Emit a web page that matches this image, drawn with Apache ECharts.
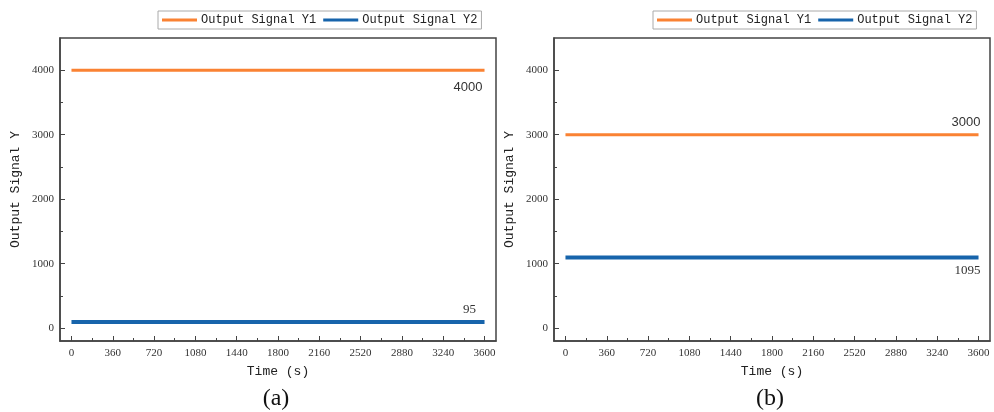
<!DOCTYPE html>
<html>
<head>
<meta charset="utf-8">
<script src="https://cdn.jsdelivr.net/npm/echarts@6/dist/echarts.min.js"></script>
<style>
  html, body { margin: 0; padding: 0; background: #fff; }
  #main { width: 994px; height: 412px; }
</style>
</head>
<body>
<div id="main"></div>
<script>
// data
var time = [0, 360, 720, 1080, 1440, 1800, 2160, 2520, 2880, 3240, 3600];
var y1a = [4000, 4000, 4000, 4000, 4000, 4000, 4000, 4000, 4000, 4000, 4000];
var y2a = [95, 95, 95, 95, 95, 95, 95, 95, 95, 95, 95];
var y1b = [3000, 3000, 3000, 3000, 3000, 3000, 3000, 3000, 3000, 3000, 3000];
var y2b = [1095, 1095, 1095, 1095, 1095, 1095, 1095, 1095, 1095, 1095, 1095];
var xTicks = [0, 360, 720, 1080, 1440, 1800, 2160, 2520, 2880, 3240, 3600];
var xMinor = [180, 540, 900, 1260, 1620, 1980, 2340, 2700, 3060, 3420];
var yTicks = [0, 1000, 2000, 3000, 4000];
var yMinor = [500, 1500, 2500, 3500];
var names = ['Output Signal Y1', 'Output Signal Y2'];
var panels = ['(a)', '(b)'];

var orange = '#fa8233';
var blue = '#1764ab';
var mono = 'Liberation Mono';
var serif = 'Liberation Serif';

function pairs(xs, ys) {
  return xs.map(function (x, i) { return [x, ys[i]]; });
}
function plain(v) { return String(v); }

var chart = echarts.init(document.getElementById('main'));

var grids = [
  { left: 60, top: 38, width: 436, height: 303 },
  { left: 554, top: 38, width: 436, height: 303 }
];

var xAxes = [], yAxes = [];
[0, 1].forEach(function (g) {
  // main x axis
  xAxes.push({
    type: 'value', gridIndex: g, min: -100, max: 3700, position: 'bottom',
    name: 'Time (s)', nameLocation: 'middle', nameGap: 24,
    nameTextStyle: { fontFamily: mono, fontSize: 13, color: '#222' },
    axisLine: { show: true, onZero: false, lineStyle: { color: '#444', width: 1.5 } },
    axisTick: { show: true, inside: true, length: 5, customValues: xTicks, lineStyle: { color: '#444' } },
    axisLabel: { customValues: xTicks, formatter: plain, fontFamily: serif, fontSize: 11, color: '#333', margin: 7 },
    splitLine: { show: false }
  });
  // minor ticks
  xAxes.push({
    type: 'value', gridIndex: g, min: -100, max: 3700, position: 'bottom',
    axisLine: { show: false, onZero: false },
    axisTick: { show: true, inside: true, length: 3, customValues: xMinor, lineStyle: { color: '#444' } },
    axisLabel: { show: false },
    splitLine: { show: false }
  });
  yAxes.push({
    type: 'value', gridIndex: g, min: -200, max: 4500, position: 'left',
    name: 'Output Signal Y', nameLocation: 'middle', nameGap: 38,
    nameTextStyle: { fontFamily: mono, fontSize: 13, color: '#222' },
    axisLine: { show: true, onZero: false, lineStyle: { color: '#444', width: 1.5 } },
    axisTick: { show: true, inside: true, length: 5, customValues: yTicks, lineStyle: { color: '#444' } },
    axisLabel: { customValues: yTicks, formatter: plain, fontFamily: serif, fontSize: 11, color: '#333', margin: 6 },
    splitLine: { show: false }
  });
  yAxes.push({
    type: 'value', gridIndex: g, min: -200, max: 4500, position: 'left',
    axisLine: { show: false, onZero: false },
    axisTick: { show: true, inside: true, length: 3, customValues: yMinor, lineStyle: { color: '#444' } },
    axisLabel: { show: false },
    splitLine: { show: false }
  });
});

function endMark(xs, ys, font, align, pos) {
  var n = xs.length - 1;
  return {
    symbol: 'rect', symbolSize: [0, 0],
    data: [{ coord: [xs[n], ys[n]], value: ys[n] }],
    label: {
      show: true, formatter: '{c}', position: pos, align: align, verticalAlign: 'middle',
      fontFamily: font, fontSize: 13, color: '#333'
    }
  };
}

function line(name, g, ys, color, width, mark) {
  return {
    name: name, type: 'line', xAxisIndex: g * 2, yAxisIndex: g * 2,
    data: pairs(time, ys), showSymbol: false, symbol: 'none',
    lineStyle: { color: color, width: width }, itemStyle: { color: color },
    animation: false, markPoint: mark
  };
}

var option = {
  animation: false,
  grid: grids.map(function (gr) {
    return Object.assign({ show: true, borderColor: '#444', borderWidth: 1.5, containLabel: false }, gr);
  }),
  legend: [
    { left: 158, top: 11, data: names },
    { left: 653, top: 11, data: names }
  ].map(function (l) {
    return Object.assign({
      icon: 'rect', itemWidth: 35, itemHeight: 3, itemGap: 7, padding: [3, 4],
      borderColor: '#aaa', borderWidth: 1, borderRadius: 0,
      textStyle: { fontFamily: mono, fontSize: 12, color: '#222', padding: [0, 0, 0, -1] }
    }, l);
  }),
  title: [
    { text: panels[0], left: 271, top: 382, textAlign: 'center' },
    { text: panels[1], left: 765, top: 382, textAlign: 'center' }
  ].map(function (t) {
    return Object.assign({ textStyle: { fontFamily: serif, fontSize: 24, fontWeight: 'normal', color: '#111' } }, t);
  }),
  xAxis: xAxes,
  yAxis: yAxes,
  series: [
    line(names[0], 0, y1a, orange, 3, endMark(time, y1a, 'Liberation Sans', 'right', [-2, 17])),
    line(names[1], 0, y2a, blue, 4, endMark(time, y2a, serif, 'center', [-15, -12])),
    line(names[0], 1, y1b, orange, 3, endMark(time, y1b, 'Liberation Sans', 'right', [2, -12])),
    line(names[1], 1, y2b, blue, 4, endMark(time, y2b, serif, 'right', [2, 13]))
  ]
};

chart.setOption(option);
</script>
</body>
</html>
